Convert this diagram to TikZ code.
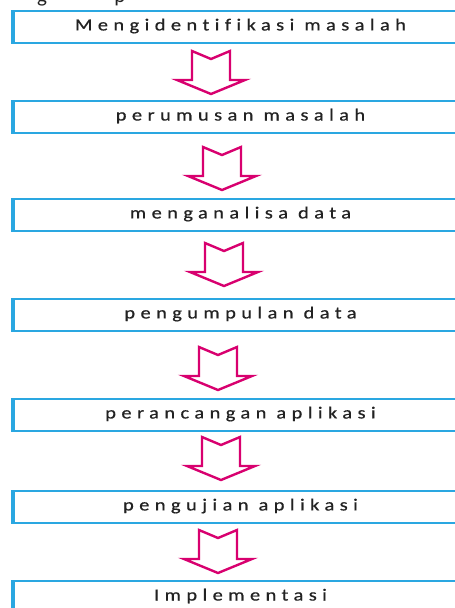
\documentclass[tikz,border=0pt]{standalone}
\usepackage{fontspec}
\setmainfont{Carlito}
\newfontfamily\stepfont[FakeStretch=1.2,LetterSpace=32,FakeBold=0.6,Ligatures=NoCommon]{Carlito}
\definecolor{boxblue}{RGB}{42,167,225}
\definecolor{arrowpink}{RGB}{216,0,111}
\definecolor{inktext}{RGB}{34,34,34}
\tikzset{
  stepbox/.style={draw=boxblue, line width=2pt, fill=white, anchor=north west,
    minimum width=453pt, minimum height=32pt, inner sep=0pt},
  steplabel/.style={text=inktext, font=\stepfont\fontsize{17}{20}\selectfont},
  leftbar/.style={draw=boxblue, line width=4pt},
  arrowline/.style={draw=arrowpink, line width=2.4pt, fill=white, line join=miter},
  flowarrow/.pic={
    \path[arrowline] (-19,0) -- (0,8) -- (19,0) -- (19,29) -- (34,29)
      -- (0,43) -- (-34,29) -- (-19,29) -- cycle;
  }
}
\begin{document}
\begin{tikzpicture}[x=1pt,y=-1pt]
  \useasboundingbox (0,0) rectangle (455,608);
  \clip (0,0) rectangle (455,608);
  \fill[white] (0,0) rectangle (455,608);

  % descenders of the caption line above the chart
  \node[anchor=base, text=inktext, font=\fontsize{21}{24}\selectfont] (capg) at (42,2) {g};
  \node[anchor=base, text=inktext, font=\fontsize{21}{24}\selectfont] (capp) at (120,2) {p};

  % process steps
  \foreach \name/\ytop/\txt in {
      s1/10/Mengidentifikasi masalah,
      s2/100/perumusan masalah,
      s3/198/menganalisa data,
      s4/298/pengumpulan data,
      s5/398/perancangan aplikasi,
      s6/490/pengujian aplikasi,
      s7/580/Implementasi} {
    \node[stepbox] (\name) at (13,\ytop) {};
    \node[steplabel] (\name t) at ([yshift=1pt]\name.center) {\txt};
    \draw[leftbar] (\name.north west) -- (\name.south west);
  }

  % block arrows between consecutive steps
  \coordinate (a1) at (211,51);
  \coordinate (a2) at (222,147);
  \coordinate (a3) at (224,243);
  \coordinate (a4) at (218,347);
  \coordinate (a5) at (221,437);
  \coordinate (a6) at (218,530);
  \foreach \a in {a1,a2,a3,a4,a5,a6}
    \pic at (\a) {flowarrow};
\end{tikzpicture}
\end{document}
